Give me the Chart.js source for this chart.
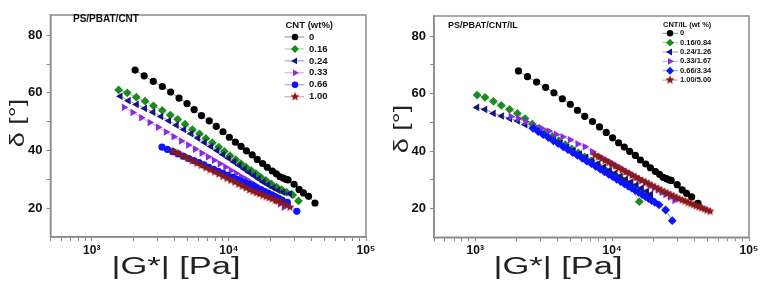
<!DOCTYPE html>
<html><head><meta charset="utf-8">
<script src="https://cdn.jsdelivr.net/npm/chart.js@4.4.1/dist/chart.umd.min.js"></script>
<style>
html,body{margin:0;padding:0;background:#fff;width:765px;height:290px;overflow:hidden}
.p{position:absolute;top:0;height:290px}
#w1{left:0;width:383px}
#w2{left:383px;width:382px}
</style></head><body>
<div class="p" id="w1"><canvas id="c1"></canvas></div>
<div class="p" id="w2"><canvas id="c2"></canvas></div>
<script>
// ---------- tick values / labels ----------
const xTicks = [500,600,700,800,900,1000,2000,3000,4000,5000,6000,7000,8000,9000,10000,20000,30000,40000,50000,60000,70000,80000,90000,100000];
const xMajorTicks = [1000,10000,100000];
const xMajorLabels = ['10³','10⁴','10⁵'];
const yTicks = [20,30,40,50,60,70,80];
const yMajorTicks = [20,40,60,80];

// ---------- left panel: PS/PBAT/CNT ----------
const leftLabels = ['0','0.16','0.24','0.33','0.66','1.00'];
const L0_G = [2070,2410,2810,3270,3760,4330,4950,5580,6310,7190,8090,9060,10080,11150,12270,13430,14790,16100,17620,19050,20740,22190,23600,24970,26100,27000,29900,32500,35000,38100,42450];
const L0_D = [67.9,65.9,64.0,62.2,60.3,58.2,56.3,54.2,52.1,50.3,48.4,46.5,44.6,42.9,41.4,39.9,38.5,36.9,35.5,34.2,32.9,31.9,30.9,30.4,30.0,29.8,28.3,26.5,25.3,24.1,21.8];
const L016_G = [1570,1815,2113,2447,2820,3265,3740,4235,4790,5420,6105,6795,7565,8420,9265,10190,11210,12270,13350,14530,15730,17030,18630,20380,22320,24280,26400,29200,32200];
const L016_D = [61.0,60.0,58.5,57.1,55.5,53.9,52.3,50.8,49.1,47.2,45.8,44.2,42.7,41.2,39.7,38.2,36.8,35.4,34.2,33.1,32.0,30.8,29.6,28.4,27.3,26.4,25.5,24.6,22.5];
const L024_G = [1616,1850,2120,2440,2800,3200,3650,4150,4700,5300,5950,6650,7400,8200,9050,9950,10900,11900,12950,14050,15200,16450,17800,19300,21000,22800,24800,27800];
const L024_D = [58.8,57.3,56.0,54.6,53.3,51.8,50.3,48.8,47.3,45.8,44.3,42.8,41.4,40.0,38.6,37.3,36.0,34.8,33.6,32.4,31.3,30.2,29.1,28.1,27.1,26.2,25.5,25.0];
const L033_G = [1720,1990,2300,2650,3040,3480,3960,4490,5060,5680,6340,7050,7800,8600,9450,10350,11300,12300,13350,14450,15600,16800,18050,19350,20700,22100,23600,25200];
const L033_D = [55.0,53.2,51.4,49.7,48.1,46.4,44.8,43.3,41.9,40.5,39.1,37.8,36.6,35.4,34.3,33.1,32.1,31.0,30.0,29.0,28.0,27.0,25.9,24.8,23.7,22.6,21.5,20.3];
const L066_G = [3250,3560,3900,4270,4670,5100,5560,6050,6580,7140,7740,8380,9060,9780,10540,11340,12190,13080,14020,15000,16020,17090,18200,19350,20550,21800,23100,24450,26700,31300];
const L066_D = [41.2,40.4,39.6,38.8,38.0,37.2,36.5,35.8,35.0,34.2,33.5,32.8,32.1,31.4,30.8,30.1,29.5,28.9,28.3,27.7,27.0,26.4,25.8,25.2,24.6,24.0,23.4,22.8,22.0,18.9];
const L100_G = [3890,4230,4600,4990,5400,5840,6300,6790,7310,7860,8440,9050,9690,10360,11060,11790,12550,13340,14160,15010,15890,16800,17740,18710,19710,20740,21800,22900,24000,25800,27900];
const L100_D = [39.8,39.0,38.1,37.3,36.4,35.6,34.8,34.0,33.3,32.5,31.8,31.0,30.3,29.6,29.0,28.3,27.6,27.0,26.3,25.8,25.3,24.9,24.4,24.0,23.6,23.2,22.8,22.4,22.0,21.2,20.3];

// ---------- right panel: PS/PBAT/CNT/IL ----------
const rightLabels = ['0','0.16/0.84','0.24/1.26','0.33/1.67','0.66/3.34','1.00/5.00'];
const R0_G = [2070,2410,2810,3270,3760,4330,4950,5580,6310,7190,8090,9060,10080,11150,12270,13430,14790,16100,17620,19050,20740,22190,23600,24970,26100,27000,29900,32500,35000,38100,42450];
const R0_D = [67.9,65.9,64.0,62.2,60.3,58.2,56.3,54.2,52.1,50.3,48.4,46.5,44.6,42.9,41.4,39.9,38.5,36.9,35.5,34.2,32.9,31.9,30.9,30.4,30.0,29.8,28.3,26.5,25.3,24.1,21.8];
const R016_G = [1033,1180,1358,1552,1781,2033,2311,2612,2920,3270,3650,4080,4550,5070,5650,6300,7020,7820,8700,9680,10770,11980,13300,15800];
const R016_D = [59.5,58.7,57.3,55.9,54.5,53.1,51.3,49.4,47.9,46.4,45.0,43.6,42.2,40.8,39.4,38.0,36.6,35.2,33.9,32.5,31.2,29.8,28.5,22.4];
const R024_G = [1030,1180,1360,1560,1790,2043,2320,2625,2960,3330,3740,4190,4680,5220,5810,6450,7150,7900,8710,9580,10510,11510,12580,13770,15050,16450,17900,19200];
const R024_D = [55.2,54.5,53.1,52.2,51.3,50.5,49.2,47.9,46.6,45.3,44.0,42.7,41.4,40.2,39.0,37.8,36.6,35.5,34.4,33.3,32.3,31.2,30.2,29.2,28.2,27.1,26.0,25.0];
const R033_G = [1820,2070,2337,2687,3050,3445,3890,4350,4933,5606,6330,7160,8130,9000,9900,10850,11850,12900,14000,15150,16350,17600,18900,20250,21650,23100,24600,26500,28600];
const R033_D = [52.0,51.3,50.2,48.7,47.9,47.0,45.8,45.0,43.9,42.5,41.5,39.8,38.1,37.0,35.9,34.8,33.8,32.8,31.8,30.8,29.9,29.0,28.1,27.3,26.5,25.7,24.9,24.0,22.8];
const R066_G = [2650,2885,3140,3420,3720,4040,4390,4760,5160,5590,6050,6540,7060,7610,8190,8800,9440,10110,10810,11540,12300,13090,13910,14760,15640,16550,17490,18460,19460,20500,22000,24600,27500];
const R066_D = [47.9,46.8,45.7,44.7,43.6,42.6,41.5,40.5,39.5,38.5,37.5,36.5,35.6,34.6,33.7,32.8,31.9,31.1,30.2,29.4,28.6,27.8,27.1,26.3,25.6,24.9,24.2,23.5,22.8,22.2,21.3,19.5,15.8];
const R100_G = [7480,7930,8400,8900,9430,9990,10580,11200,11860,12560,13290,14060,14870,15720,16610,17540,18520,19540,20610,21730,22900,24120,25390,26720,28100,29540,31030,32580,34190,35860,37590,39390,41250,43180,45180,47250,49400,52000];
const R100_D = [38.6,38.0,37.3,36.7,36.0,35.3,34.7,34.0,33.4,32.7,32.1,31.5,30.9,30.3,29.7,29.2,28.6,28.0,27.4,26.9,26.3,25.8,25.3,24.8,24.3,23.8,23.3,22.9,22.5,22.1,21.7,21.3,20.9,20.5,20.2,19.8,19.4,19.0];

// ---------- styles ----------
function starImg(color, r){
  const s = Math.ceil(2*r+2), c = document.createElement('canvas');
  c.width = c.height = s;
  const g = c.getContext('2d');
  g.fillStyle = color; g.beginPath();
  for (let k=0;k<10;k++){
    const a = -Math.PI/2 + k*Math.PI/5, rr = (k%2) ? r*0.45 : r;
    g.lineTo(s/2 + rr*Math.cos(a), s/2 + rr*Math.sin(a));
  }
  g.closePath(); g.fill();
  return c;
}
const styles = [
  {color:'#000000', line:'rgba(0,0,0,0.45)',       shape:'circle',   rot:0,   r:3.6},
  {color:'#1d8a1d', line:'rgba(29,138,29,0.45)',    shape:'rectRot',  rot:0,   r:4.4},
  {color:'#16167a', line:'rgba(22,22,122,0.45)',    shape:'triangle', rot:-90, r:4.4},
  {color:'#8a2be2', line:'rgba(138,43,226,0.45)',   shape:'triangle', rot:90,  r:4.4},
  {color:'#0a14ff', line:'rgba(10,20,255,0.45)',    shape:'circle',   rot:0,   r:3.6},
  {color:'#8b1a1a', line:'rgba(139,26,26,0.45)',    shape:null,       rot:0,   r:4.7}
];
const stylesRight = styles.map((s,i)=> i===4 ? Object.assign({}, s, {shape:'rectRot', r:4.4}) : s);

function ds(label, xs, ys, st, i, n){
  return {
    label, data: xs.map((x,k)=>({x, y: ys[k]})),
    showLine: true, borderColor: st.line, borderWidth: 1,
    backgroundColor: st.color, pointBackgroundColor: st.color, pointBorderWidth: 0,
    pointStyle: st.shape || starImg(st.color, st.r), pointRotation: st.rot, pointRadius: st.r,
    order: n - i
  };
}

const FRAME = '#8a8a8a';
const FONT = 'Arial, "Liberation Sans", sans-serif';

const extras = {
  id: 'extras',
  afterDraw(chart, args, o){
    const {ctx, chartArea: a} = chart;
    ctx.save();
    ctx.strokeStyle = FRAME; ctx.lineWidth = 1.5;
    ctx.strokeRect(a.left, a.top, a.right - a.left, a.bottom - a.top);
    ctx.fillStyle = '#111'; ctx.textBaseline = 'middle'; ctx.textAlign = 'left';
    ctx.font = `bold ${o.titleSize}px ${FONT}`;
    ctx.fillText(o.title, o.titleX, o.titleY);
    ctx.font = `bold ${o.legSize}px ${FONT}`;
    ctx.fillText(o.legTitle, o.legX, o.legTitleY);
    chart.data.datasets.forEach((d, i) => {
      const y = o.legY0 + i*o.legStep;
      ctx.strokeStyle = d.borderColor; ctx.lineWidth = 1;
      ctx.beginPath(); ctx.moveTo(o.lineX0, y); ctx.lineTo(o.lineX1, y); ctx.stroke();
      ctx.fillStyle = d.backgroundColor;
      Chart.helpers.drawPoint(ctx, {pointStyle: d.pointStyle, rotation: d.pointRotation, radius: d.pointRadius*0.9, borderWidth: 0}, o.markX, y);
      ctx.fillStyle = '#111';
      ctx.fillText(d.label, o.textX, y);
    });
    // axis titles
    ctx.fillStyle = '#222'; ctx.textAlign = 'center';
    ctx.font = `${o.xtSize}px ${FONT}`;
    ctx.save(); ctx.translate(o.xtX, o.xtY); ctx.scale(o.xtStretch, 1);
    ctx.fillText('|G*| [Pa]', 0, 0); ctx.restore();
    ctx.font = `${o.ytSize}px ${FONT}`;
    ctx.save(); ctx.translate(o.ytX, o.ytY); ctx.rotate(-Math.PI/2); ctx.scale(o.ytStretch, 1);
    ctx.fillText('δ [°]', 0, 0); ctx.restore();
    ctx.restore();
  }
};

function makeChart(id, series, labels, st, geo, ex){
  const n = series.length;
  return new Chart(document.getElementById(id), {
    type: 'scatter',
    data: { datasets: series.map((s,i)=> ds(labels[i], s[0], s[1], st[i], i, n)) },
    options: {
      responsive: true, maintainAspectRatio: false, animation: false,
      layout: { padding: { left: 0, right: geo.right, top: geo.top, bottom: 0 } },
      plugins: { legend: {display:false}, tooltip: {enabled:false}, extras: ex },
      scales: {
        x: {
          type: 'logarithmic', min: 500, max: 100000,
          afterBuildTicks: s => { s.ticks = xTicks.map(v => ({value: v})); },
          afterFit: s => { s.height = geo.xh; },
          grid: { drawOnChartArea: false, drawTicks: true, tickLength: 4, color: FRAME, lineWidth: 1 },
          border: { display: true, color: FRAME, width: 1.5 },
          ticks: {
            autoSkip: false, maxRotation: 0, minRotation: 0, padding: 2, color: '#111',
            font: { family: FONT, size: 12, weight: 'bold' },
            callback: v => { const k = xMajorTicks.indexOf(v); return k >= 0 ? xMajorLabels[k] : ''; }
          }
        },
        y: {
          min: 10, max: 87,
          afterBuildTicks: s => { s.ticks = yTicks.map(v => ({value: v})); },
          afterFit: s => { s.width = geo.yw; },
          grid: { drawOnChartArea: false, drawTicks: true, tickLength: 4, color: FRAME, lineWidth: 1 },
          border: { display: true, color: FRAME, width: 1.5 },
          ticks: {
            autoSkip: false, padding: 4, color: '#111',
            font: { family: FONT, size: 13, weight: 'bold' },
            callback: v => yMajorTicks.includes(v) ? String(v) : ''
          }
        }
      }
    },
    plugins: [extras]
  });
}

makeChart('c1',
  [[L0_G,L0_D],[L016_G,L016_D],[L024_G,L024_D],[L033_G,L033_D],[L066_G,L066_D],[L100_G,L100_D]],
  leftLabels, styles,
  {right: 17, top: 15, xh: 53, yw: 50.5},
  {title:'PS/PBAT/CNT', titleSize:10, titleX:73, titleY:19,
   legTitle:'CNT (wt%)', legSize:9.5, legX:285.5, legTitleY:25,
   legY0:37, legStep:11.95, lineX0:284.5, lineX1:304, markX:295, textX:309,
   xtSize:23, xtX:176, xtY:268, xtStretch:1.5,
   ytSize:20, ytX:18, ytY:123, ytStretch:1.35});

makeChart('c2',
  [[R0_G,R0_D],[R016_G,R016_D],[R024_G,R024_D],[R033_G,R033_D],[R066_G,R066_D],[R100_G,R100_D]],
  rightLabels, stylesRight,
  {right: 16, top: 16, xh: 52.7, yw: 51},
  {title:'PS/PBAT/CNT/IL', titleSize:9, titleX:65, titleY:26,
   legTitle:'CNT/IL (wt %)', legSize:7.5, legX:280, legTitleY:25,
   legY0:33.3, legStep:9.35, lineX0:279.5, lineX1:295, markX:287, textX:297,
   xtSize:23, xtX:175, xtY:268, xtStretch:1.5,
   ytSize:20, ytX:19.5, ytY:129, ytStretch:1.35});
</script>
</body></html>
